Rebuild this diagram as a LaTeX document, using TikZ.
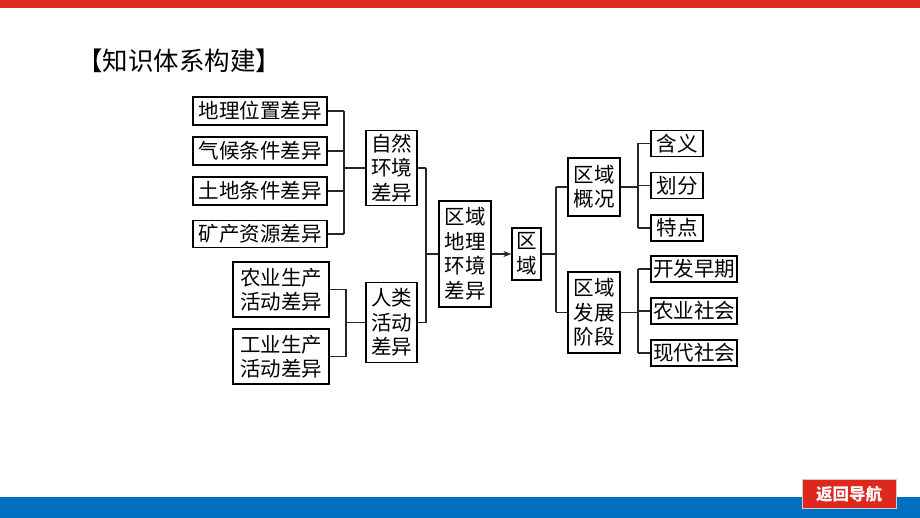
\documentclass[tikz,border=0pt]{standalone}
\usepackage{fontspec}
\newfontfamily\cjk{Noto Sans CJK SC}
\usetikzlibrary{arrows.meta}
\definecolor{topred}{RGB}{224,44,30}
\definecolor{botblue}{RGB}{0,112,192}
\definecolor{btnred}{RGB}{222,40,30}
\tikzset{
  bx/.style={draw=black, line width=1.2pt, inner sep=0pt, align=center,
    font=\cjk\fontsize{20.5}{24.5}\selectfont},
  ln/.style={draw=black!85, line width=1.2pt},
}
\begin{document}
\begin{tikzpicture}[x=1pt,y=-1pt]
\path[use as bounding box, fill=white] (0,0) rectangle (920,518);
\fill[topred] (0,0) rectangle (920,8);
\fill[botblue] (0,497) rectangle (920,518);
\node[font=\cjk\fontsize{25.5}{28}\selectfont, inner sep=0pt] (title) at (179,61) {【知识体系构建】};
\node[fill=btnred, draw=black!20, line width=1pt, minimum width=94, minimum height=29, inner sep=0pt,
  text=white, font=\cjk\bfseries\fontsize{16.5}{18}\selectfont] (btn) at (849,494) {返回导航};

% left group 1
\node[bx, minimum width=134, minimum height=28] (g1) at (260,111) {地理位置差异};
\node[bx, minimum width=134, minimum height=28] (g2) at (260,151) {气候条件差异};
\node[bx, minimum width=134, minimum height=28] (g3) at (260,191) {土地条件差异};
\node[bx, minimum width=134, minimum height=27] (g4) at (260,234) {矿产资源差异};
\node[bx, minimum width=51, minimum height=75] (nat) at (391.5,168) {自然\\环境\\差异};
% left group 2
\node[bx, minimum width=96, minimum height=55] (a1) at (281,289.5) {农业生产\\活动差异};
\node[bx, minimum width=96, minimum height=55] (a2) at (281,356.5) {工业生产\\活动差异};
\node[bx, minimum width=51, minimum height=80] (hum) at (391.5,322.5) {人类\\活动\\差异};
% center
\node[bx, minimum width=52, minimum height=106] (reg) at (465,254) {区域\\地理\\环境\\差异};
\node[bx, minimum width=29, minimum height=52] (qy) at (526.5,254) {区\\域};
\node[bx, minimum width=52, minimum height=58] (gk) at (594,187) {区域\\概况};
\node[bx, minimum width=52, minimum height=81] (fz) at (594,312.5) {区域\\发展\\阶段};
% leaves
\node[bx, minimum width=52, minimum height=26] (l1) at (677,143.5) {含义};
\node[bx, minimum width=52, minimum height=26] (l2) at (677,185.5) {划分};
\node[bx, minimum width=52, minimum height=26] (l3) at (677,228) {特点};
\node[bx, minimum width=86, minimum height=26] (l4) at (694,269) {开发早期};
\node[bx, minimum width=86, minimum height=26] (l5) at (694,311) {农业社会};
\node[bx, minimum width=86, minimum height=26] (l6) at (694,353) {现代社会};

% spines
\coordinate (s1) at (344,0);
\coordinate (s2) at (346,0);
\coordinate (s3) at (426,0);
\coordinate (s4) at (556,0);
\coordinate (s5) at (638,0);

\draw[ln] (g1.east) -- (g1.east -| s1);
\draw[ln] (g2.east) -- (g2.east -| s1);
\draw[ln] (g3.east) -- (g3.east -| s1);
\draw[ln] (g4.east) -- (g4.east -| s1);
\draw[ln] (g1.east -| s1) -- (g4.east -| s1);
\draw[ln] (nat.west) -- (nat.west -| s1);

\draw[ln] (a1.east) -- (a1.east -| s2);
\draw[ln] (a2.east) -- (a2.east -| s2);
\draw[ln] (a1.east -| s2) -- (a2.east -| s2);
\draw[ln] (hum.west) -- (hum.west -| s2);

\draw[ln] (nat.east) -- (nat.east -| s3);
\draw[ln] (hum.east) -- (hum.east -| s3);
\draw[ln] (nat.east -| s3) -- (hum.east -| s3);
\draw[ln] (reg.west) -- (reg.west -| s3);

\draw[ln, -{Stealth[length=8pt,width=6pt]}] (reg.east) -- (qy.west);

\draw[ln] (qy.east) -- (qy.east -| s4);
\draw[ln] (gk.west -| s4) -- (fz.west -| s4);
\draw[ln] (gk.west) -- (gk.west -| s4);
\draw[ln] (fz.west) -- (fz.west -| s4);

\draw[ln] (gk.east) -- (gk.east -| s5);
\draw[ln] (l1.west -| s5) -- (l3.west -| s5);
\draw[ln] (l1.west) -- (l1.west -| s5);
\draw[ln] (l2.west) -- (l2.west -| s5);
\draw[ln] (l3.west) -- (l3.west -| s5);

\draw[ln] (fz.east) -- (fz.east -| s5);
\draw[ln] (l4.west -| s5) -- (l6.west -| s5);
\draw[ln] (l4.west) -- (l4.west -| s5);
\draw[ln] (l5.west) -- (l5.west -| s5);
\draw[ln] (l6.west) -- (l6.west -| s5);
\end{tikzpicture}
\end{document}
